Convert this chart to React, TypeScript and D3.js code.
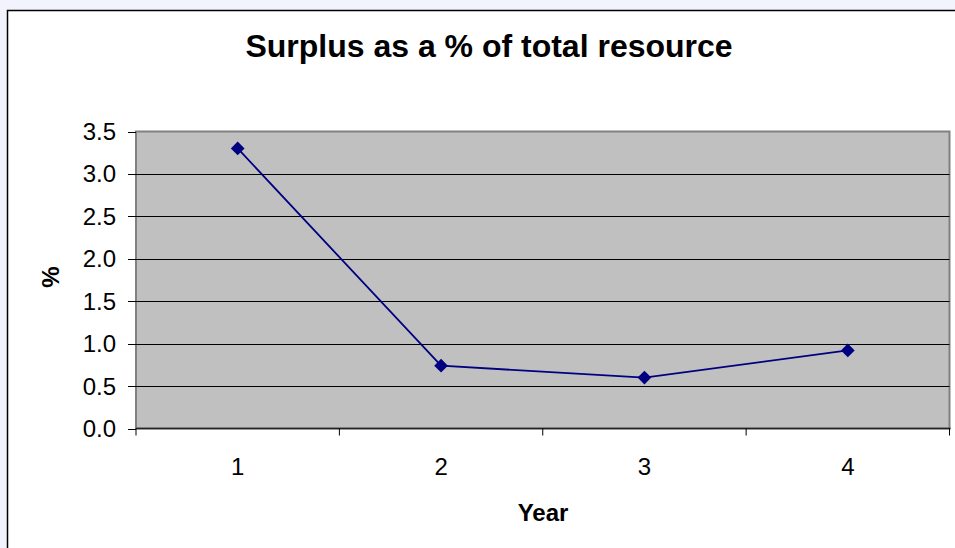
import React from "react";
import * as d3 from "d3";

// Surplus as a share of total resource, by year
const years = ["1", "2", "3", "4"];
const surplusPct = [3.3, 0.74, 0.6, 0.92];
const yTicks = [0, 0.5, 1.0, 1.5, 2.0, 2.5, 3.0, 3.5];

const W = 955;
const H = 548;
const plot = { left: 136, top: 131.5, right: 949.5, bottom: 428.5 };
const font = "'Liberation Sans', Arial, sans-serif";

export default function App() {
  const x = d3
    .scaleBand<string>()
    .domain(years)
    .range([plot.left, plot.right])
    .paddingInner(0)
    .paddingOuter(0);
  const y = d3.scaleLinear().domain([0, 3.5]).range([plot.bottom, plot.top]);

  const cx = (d: string) => (x(d) ?? 0) + x.bandwidth() / 2;
  const line = d3
    .line<number>()
    .x((_, i) => cx(years[i]))
    .y((v) => y(v));

  const boundaries = [...years.map((d) => x(d) ?? 0), plot.right];
  const diamond = d3.symbol(d3.symbolDiamond2 ?? d3.symbolDiamond, 120)();

  return (
    <div style={{ position: "fixed", left: 0, top: 0 }}>
      <svg width={W} height={H} style={{ display: "block" }}>
        <rect x={0} y={0} width={W} height={H} fill="#F3F3FD" />
        <rect x={7.5} y={10.5} width={W + 10} height={H + 10} fill="#FFFFFF" stroke="#000" strokeWidth={1.5} />

        <text x={489} y={57} textAnchor="middle" fontFamily={font} fontWeight="bold" fontSize={32} fill="#000">
          Surplus as a % of total resource
        </text>

        {/* plot area */}
        <rect
          x={plot.left}
          y={plot.top}
          width={plot.right - plot.left}
          height={plot.bottom - plot.top}
          fill="#C0C0C0"
          stroke="#808080"
          strokeWidth={2}
        />

        {/* gridlines */}
        {yTicks.slice(1, -1).map((t) => (
          <line key={t} x1={plot.left} x2={plot.right} y1={Math.round(y(t)) + 0.5} y2={Math.round(y(t)) + 0.5} stroke="#000" strokeWidth={1} />
        ))}
        <line x1={plot.left} x2={plot.right + 1} y1={plot.bottom} y2={plot.bottom} stroke="#222" strokeWidth={1.5} />

        {/* y axis ticks and labels */}
        {yTicks.map((t) => (
          <g key={t}>
            <line x1={128} x2={plot.left} y1={Math.round(y(t)) + 0.5} y2={Math.round(y(t)) + 0.5} stroke="#000" strokeWidth={1} />
            <text x={116} y={y(t) + 8.5} textAnchor="end" fontFamily={font} fontSize={24} fill="#000">
              {d3.format(".1f")(t)}
            </text>
          </g>
        ))}

        {/* x axis ticks and labels */}
        {boundaries.map((b, i) => (
          <line key={i} x1={b} x2={b} y1={plot.bottom} y2={plot.bottom + 7} stroke="#000" strokeWidth={1} />
        ))}
        {years.map((d) => (
          <text key={d} x={cx(d)} y={474.5} textAnchor="middle" fontFamily={font} fontSize={24} fill="#000">
            {d}
          </text>
        ))}

        <text x={543} y={521} textAnchor="middle" fontFamily={font} fontWeight="bold" fontSize={24} fill="#000">
          Year
        </text>
        <text
          transform={`translate(${59}, ${277}) rotate(-90)`}
          textAnchor="middle"
          fontFamily={font}
          fontWeight="bold"
          fontSize={24}
          fill="#000"
        >
          %
        </text>

        {/* series */}
        <path d={line(surplusPct) ?? ""} fill="none" stroke="#000080" strokeWidth={1.8} />
        {surplusPct.map((v, i) => (
          <path key={i} d={diamond ?? ""} transform={`translate(${cx(years[i])}, ${y(v)})`} fill="#000080" />
        ))}
      </svg>
    </div>
  );
}
